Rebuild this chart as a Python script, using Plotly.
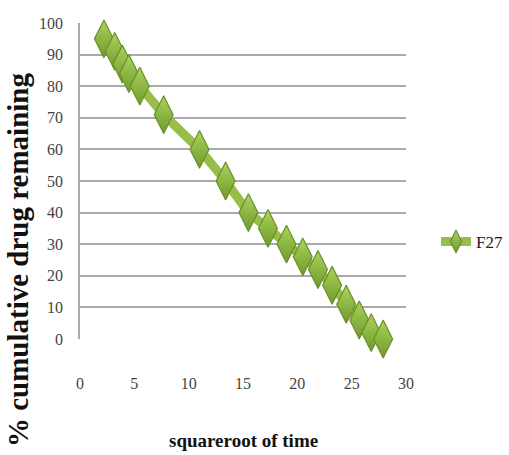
import plotly.graph_objects as go

# F27 release profile: % cumulative drug remaining vs square root of time
sqrt_time = [2.2, 3.2, 3.9, 4.5, 5.5, 7.7, 11.0, 13.4, 15.5, 17.3, 19.0,
             20.5, 21.9, 23.2, 24.5, 25.7, 26.8, 27.9]
drug_remaining = [95, 91, 87, 84, 80, 71, 60, 50, 40, 35, 30,
                  26, 22, 17, 11, 6, 2, 0]
series_name = "F27"

x_ticks = [0, 5, 10, 15, 20, 25, 30]
y_ticks = [0, 10, 20, 30, 40, 50, 60, 70, 80, 90, 100]

serif = "Liberation Serif, Times New Roman, serif"

fig = go.Figure()
fig.add_trace(go.Scatter(
    x=sqrt_time,
    y=drug_remaining,
    name=series_name,
    mode="lines+markers",
    line=dict(color="#96BE48", width=9),
    marker=dict(
        symbol="diamond-tall",
        size=27,
        color="#AAD45B",
        gradient=dict(type="vertical", color="#6F9A2C"),
        line=dict(color="#6A8F2A", width=1.2),
    ),
    cliponaxis=False,
))

fig.update_layout(
    width=509,
    height=455,
    margin=dict(l=80, r=103, t=23, b=116, autoexpand=False),
    paper_bgcolor="white",
    plot_bgcolor="white",
    showlegend=True,
    legend=dict(
        x=1.092, y=0.307, xanchor="left", yanchor="middle",
        font=dict(family=serif, size=17, color="#1a1a1a"),
        bgcolor="rgba(0,0,0,0)",
    ),
    xaxis=dict(
        range=[0, 30],
        tickvals=x_ticks,
        showgrid=False,
        zeroline=False,
        showline=False,
        ticks="outside",
        ticklen=30,
        tickcolor="rgba(0,0,0,0)",
        tickfont=dict(family=serif, size=16, color="#444444"),
    ),
    yaxis=dict(
        range=[0, 100],
        tickvals=y_ticks,
        showgrid=True,
        gridcolor="#AAAAAA",
        gridwidth=1.6,
        zeroline=False,
        showline=True,
        linecolor="#AAAAAA",
        linewidth=1.6,
        ticks="outside",
        ticklen=12,
        tickcolor="rgba(0,0,0,0)",
        tickfont=dict(family=serif, size=16, color="#444444"),
    ),
    annotations=[
        dict(
            text="<b>% cumulative drug remaining</b>",
            textangle=-90,
            xref="paper", yref="paper",
            x=-0.19, y=0.25,
            xanchor="center", yanchor="middle",
            showarrow=False,
            font=dict(family=serif, size=29, color="#111111"),
        ),
        dict(
            text="<b>squareroot of time</b>",
            xref="paper", yref="paper",
            x=0.5, y=-0.32,
            xanchor="center", yanchor="middle",
            showarrow=False,
            font=dict(family=serif, size=19, color="#111111"),
        ),
    ],
)

fig.write_html("out.html")
